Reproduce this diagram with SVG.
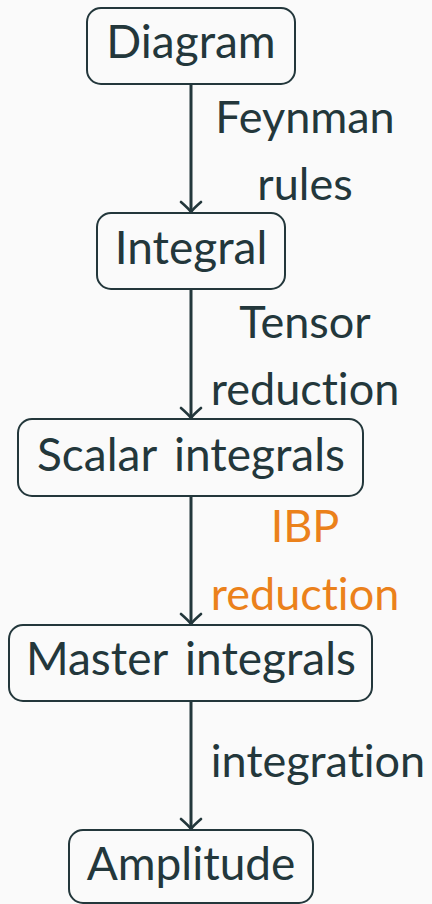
<svg xmlns="http://www.w3.org/2000/svg" width="432" height="904" viewBox="0 0 432 904">
  <style>
    text { font-family: Lato, "Open Sans", sans-serif; font-variant-ligatures: none; fill: #23373b; text-anchor: middle; }
    .box { fill: none; stroke: #23373b; stroke-width: 2; }
    .lbl { font-size: 46px; word-spacing: 6px; }
    .edge { font-size: 45px; }
    .hl { fill: #eb811b; }
    .wire { stroke: #23373b; stroke-width: 3; fill: none; }
  </style>
  <defs>
    <marker id="tip" viewBox="-12 -12 14 24" markerWidth="14" markerHeight="24" refX="0" refY="0" orient="auto" markerUnits="userSpaceOnUse">
      <path d="M -10 -10 Q -3 -2 0 0 Q -3 2 -10 10" fill="none" stroke="#23373b" stroke-width="2.6" stroke-linecap="round"/>
    </marker>
  </defs>
  <rect width="432" height="904" fill="#fafafa"/>

  <g id="connectors">
    <line class="wire" x1="191" y1="84" x2="191" y2="212" marker-end="url(#tip)"/>
    <line class="wire" x1="191" y1="289" x2="191" y2="418" marker-end="url(#tip)"/>
    <line class="wire" x1="191" y1="496" x2="191" y2="624" marker-end="url(#tip)"/>
    <line class="wire" x1="191" y1="701" x2="191" y2="829" marker-end="url(#tip)"/>
    <text class="edge" x="305" y="133">Feynman</text>
    <text class="edge" x="305" y="200">rules</text>
    <text class="edge" x="305" y="338">Tensor</text>
    <text class="edge" x="305" y="405">reduction</text>
    <text class="edge hl" x="305" y="542">IBP</text>
    <text class="edge hl" x="305" y="610">reduction</text>
    <text class="edge" x="318" y="777">integration</text>
  </g>

  <g id="diagram">
    <rect class="box" x="87" y="8" width="208" height="76" rx="14"/>
    <text class="lbl" x="191" y="58">Diagram</text>
  </g>
  <g id="integral">
    <rect class="box" x="97" y="213" width="188" height="76" rx="14"/>
    <text class="lbl" x="191" y="264">Integral</text>
  </g>
  <g id="scalar-integrals">
    <rect class="box" x="18" y="419" width="345" height="77" rx="14"/>
    <text class="lbl" x="191" y="471">Scalar integrals</text>
  </g>
  <g id="master-integrals">
    <rect class="box" x="9" y="625" width="363" height="76" rx="14"/>
    <text class="lbl" x="191" y="675">Master integrals</text>
  </g>
  <g id="amplitude">
    <rect class="box" x="69" y="830" width="244" height="73" rx="14"/>
    <text class="lbl" x="191" y="880">Amplitude</text>
  </g>
</svg>
